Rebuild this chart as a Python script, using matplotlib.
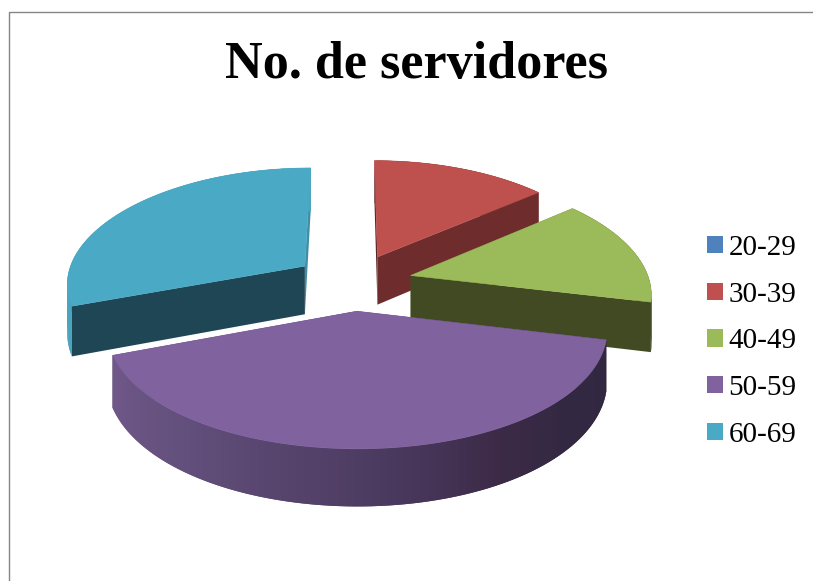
import numpy as np
import matplotlib
matplotlib.use('Agg')
import matplotlib.pyplot as plt
from matplotlib.colors import to_rgb
from matplotlib.patches import Patch

title = 'No. de servidores'
categories = ['20-29', '30-39', '40-49', '50-59', '60-69']
values = [0, 14, 15, 41, 31]
top_colors = ['#4F81BD', '#BE504D', '#9BBA59', '#7F629E', '#4AA9C4']
edge_colors = ['#27405E', '#6F2C2C', '#414A22', '#322842', '#1F4655']
sliver_colors = ['#27405E', '#5A2424', '#414A22', '#322842', '#3F8EA6']
arc_colors = ['#27405E', '#6F2C2C', '#414A22', None, '#4AA4BE']

# shading round the front of the big slice (angle from top, colour)
shade_angles = [103, 130, 150, 176, 220, 249]
shade_colors = ['#32273F', '#322842', '#3C2A47', '#4C3B61', '#64507D', '#705889']

# fake perspective, all in pixels of the original picture
cx, cy = 353, 282
rx, ry = 239, 113.5
kx, ky = 0.14, 0.12
explode = 0.25
depth = 49


def project(a, r, off, z=0):
    # a = angle clockwise from top
    x = r * np.sin(a) + off[0]
    y = r * np.cos(a) + off[1]
    sx = cx + rx * x / (1 + kx * y)
    sy = cy - ry * y / (1 + ky * y) + depth * z / (1 + ky * y)
    return sx, sy


def wall(ax, a1, r1, a2, r2, off, color):
    # vertical face between two ground points
    x1, y1 = project(a1, r1, off)
    x2, y2 = project(a2, r2, off)
    x3, y3 = project(a2, r2, off, 1)
    x4, y4 = project(a1, r1, off, 1)
    ax.fill([x1, x2, x3, x4], [y1, y2, y3, y4], facecolor=color, edgecolor='none', lw=0)


fig = plt.figure(figsize=(8.13, 5.81), dpi=100)
ax = fig.add_axes([0, 0, 1, 1])
ax.set_xlim(0, 813)
ax.set_ylim(581, 0)
ax.axis('off')

ax.plot([9, 9, 813], [581, 12, 12], color='#868686', lw=1.0)

fracs = np.array(values) / sum(values) * 2 * np.pi
starts = np.concatenate(([0], np.cumsum(fracs)[:-1]))
ends = starts + fracs

# back to front so the near slices cover the far ones
for i in [4, 1, 2, 3, 0]:
    if values[i] == 0:
        continue
    a0, a1 = starts[i], ends[i]
    mid = (a0 + a1) / 2
    off = (explode * np.sin(mid), explode * np.cos(mid))

    front_start = np.cos(a0 - np.pi / 2) < -0.01
    front_end = np.cos(a1 + np.pi / 2) < -0.01
    if not front_start:
        wall(ax, a0, 1, a0, 0, off, sliver_colors[i])
    if not front_end:
        wall(ax, a1, 1, a1, 0, off, sliver_colors[i])

    arc = np.linspace(a0, a1, 90)
    if arc_colors[i] is None:
        stops = np.array([to_rgb(c) for c in shade_colors])
    for j in range(len(arc) - 1):
        if arc_colors[i] is None:
            deg = np.degrees((arc[j] + arc[j + 1]) / 2)
            col = [np.interp(deg, shade_angles, stops[:, n]) for n in range(3)]
        else:
            col = arc_colors[i]
        # strips overlap the next one so no seams show
        wall(ax, arc[j], 1, arc[min(j + 2, len(arc) - 1)], 1, off, col)

    if front_start:
        wall(ax, a0, 1, a0, 0, off, edge_colors[i])
    if front_end:
        wall(ax, a1, 1, a1, 0, off, edge_colors[i])

    sx, sy = project(arc, 1, off)
    ax_x, ax_y = project(0.0, 0, off)
    ax.fill(np.r_[ax_x, sx], np.r_[ax_y, sy], facecolor=top_colors[i], edgecolor=top_colors[i], lw=0.4)

ax.text(416, 65, title, ha='center', va='center', fontsize=37.5, fontweight='bold',
        family='Liberation Serif', color='black')

handles = [Patch(facecolor=c, edgecolor='none') for c in top_colors]
leg = ax.legend(handles, categories, loc='center left', bbox_to_anchor=(0.8374, 0.4125),
                frameon=False, handlelength=0.53, handleheight=0.53, handletextpad=0.2,
                labelspacing=0.71, prop={'family': 'Liberation Serif', 'size': 21})

plt.savefig('out.png', dpi=100)
